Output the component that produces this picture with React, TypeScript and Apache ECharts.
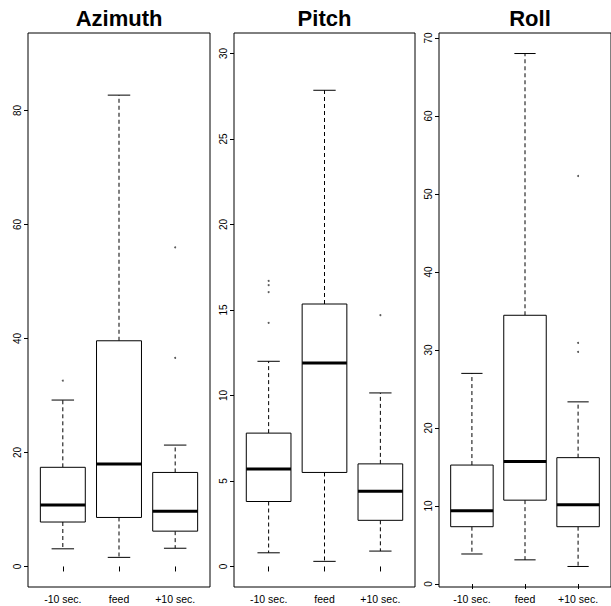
import React, { useEffect, useRef } from "react";
import * as echarts from "echarts";

const categories = ["-10 sec.", "feed", "+10 sec."];
const panelTitles = ["Azimuth", "Pitch", "Roll"];

// [lower whisker, Q1, median, Q3, upper whisker] per category
const azimuthStats = [
  [3.1, 7.8, 10.8, 17.4, 29.2],
  [1.6, 8.6, 18.0, 39.6, 82.7],
  [3.2, 6.2, 9.7, 16.5, 21.3],
];
const azimuthOutliers = [[1, 32.6], [3, 36.6], [3, 56.0]];

const pitchStats = [
  [0.8, 3.8, 5.7, 7.8, 12.0],
  [0.3, 5.5, 11.9, 15.35, 27.85],
  [0.9, 2.7, 4.4, 6.0, 10.15],
];
const pitchOutliers = [[1, 14.25], [1, 16.05], [1, 16.45], [1, 16.7], [3, 14.7]];

const rollStats = [
  [3.85, 7.35, 9.4, 15.25, 27.0],
  [3.1, 10.75, 15.7, 34.45, 68.0],
  [2.25, 7.35, 10.15, 16.2, 23.35],
];
const rollOutliers = [[3, 29.75], [3, 30.9], [3, 52.3]];

const azimuthTicks = [0, 20, 40, 60, 80];
const pitchTicks = [0, 5, 10, 15, 20, 25, 30];
const rollTicks = [0, 10, 20, 30, 40, 50, 60, 70];

const azimuthLimits: number[] | null = [0, 90];
const pitchLimits: number[] | null = [0, 30];
const rollLimits: number[] | null = null;

const FONT = '"Liberation Sans", Arial, sans-serif';

function rRange(stats: number[][], outliers: number[][], limits: number[] | null) {
  let lo: number, hi: number;
  if (limits) {
    lo = limits[0];
    hi = limits[1];
  } else {
    const all = stats.flat().concat(outliers.map((o) => o[1]));
    lo = Math.min(...all);
    hi = Math.max(...all);
  }
  const ext = (hi - lo) * 0.04;
  return [lo - ext, hi + ext];
}

export default function App() {
  const ref = useRef<HTMLDivElement>(null);
  useEffect(() => {
    if (!ref.current) return;
    const chart = echarts.init(ref.current, undefined, { renderer: "svg" });
    const panels = [
      { stats: azimuthStats, outliers: azimuthOutliers, ticks: azimuthTicks, limits: azimuthLimits, left: 28, width: 182 },
      { stats: pitchStats, outliers: pitchOutliers, ticks: pitchTicks, limits: pitchLimits, left: 234, width: 181 },
      { stats: rollStats, outliers: rollOutliers, ticks: rollTicks, limits: rollLimits, left: 439, width: 182 },
    ];
    const grids: any[] = [];
    const xAxes: any[] = [];
    const yAxes: any[] = [];
    const series: any[] = [];
    const graphics: any[] = [];
    const dashed = { stroke: "#000", lineWidth: 1, lineDash: [4, 3] };
    const solid = { stroke: "#000", lineWidth: 1 };
    panels.forEach((p, i) => {
      grids.push({
        left: p.left, top: 33, width: p.width, height: 554,
        show: true, borderColor: "#000", borderWidth: 1, backgroundColor: "transparent",
      });
      xAxes.push({
        type: "value", gridIndex: i, min: 0.38, max: 3.62,
        splitLine: { show: false }, axisLine: { show: false },
        axisTick: { show: true, customValues: [1, 2, 3], length: 5, lineStyle: { color: "#000" } },
        axisLabel: {
          customValues: [1, 2, 3], formatter: (v: number) => categories[Math.round(v) - 1],
          fontSize: 10.5, fontFamily: FONT, color: "#000", margin: 6,
        },
      });
      const [ymin, ymax] = rRange(p.stats, p.outliers, p.limits);
      yAxes.push({
        type: "value", gridIndex: i, min: ymin, max: ymax,
        splitLine: { show: false }, axisLine: { show: false },
        axisTick: { show: true, customValues: p.ticks, length: 4, lineStyle: { color: "#000" } },
        axisLabel: {
          customValues: p.ticks, rotate: 90, fontSize: 10, fontFamily: FONT, color: "#000", margin: 6,
        },
      });
      series.push({
        type: "custom", xAxisIndex: i, yAxisIndex: i, silent: true,
        data: p.stats.map((s, j) => [j + 1, ...s]),
        encode: { x: 0, y: [1, 2, 3, 4, 5] },
        renderItem: (params: any, api: any) => {
          const x = api.value(0);
          const pts = [1, 2, 3, 4, 5].map((k) => api.coord([x, api.value(k)]));
          const cx = pts[0][0];
          const half = api.size([0.4, 0])[0];
          const cap = api.size([0.2, 0])[0];
          const line = (x1: number, y1: number, x2: number, y2: number, style: any) => ({
            type: "line", shape: { x1, y1, x2, y2 }, style,
          });
          return {
            type: "group",
            children: [
              line(cx, pts[3][1], cx, pts[4][1], dashed),
              line(cx, pts[1][1], cx, pts[0][1], dashed),
              line(cx - cap, pts[4][1], cx + cap, pts[4][1], solid),
              line(cx - cap, pts[0][1], cx + cap, pts[0][1], solid),
              {
                type: "rect",
                shape: { x: cx - half, y: pts[3][1], width: 2 * half, height: pts[1][1] - pts[3][1] },
                style: { fill: "#fff", stroke: "#000", lineWidth: 1 },
              },
              line(cx - half, pts[2][1], cx + half, pts[2][1], { stroke: "#000", lineWidth: 3 }),
            ],
          };
        },
      });
      series.push({
        type: "scatter", xAxisIndex: i, yAxisIndex: i, silent: true,
        symbol: "circle", symbolSize: 2, itemStyle: { color: "#333" },
        data: p.outliers,
      });
      graphics.push({
        type: "text", x: p.left + p.width / 2, y: 18.5,
        style: {
          text: panelTitles[i], fill: "#000", fontSize: 22, fontWeight: "bold", fontFamily: FONT,
          align: "center", verticalAlign: "middle",
        },
      });
    });
    chart.setOption({
      animation: false,
      grid: grids,
      xAxis: xAxes,
      yAxis: yAxes,
      series,
      graphic: graphics,
    });
    return () => chart.dispose();
  }, []);
  return <div ref={ref} style={{ position: "absolute", left: 0, top: 0, width: 611, height: 606 }} />;
}
